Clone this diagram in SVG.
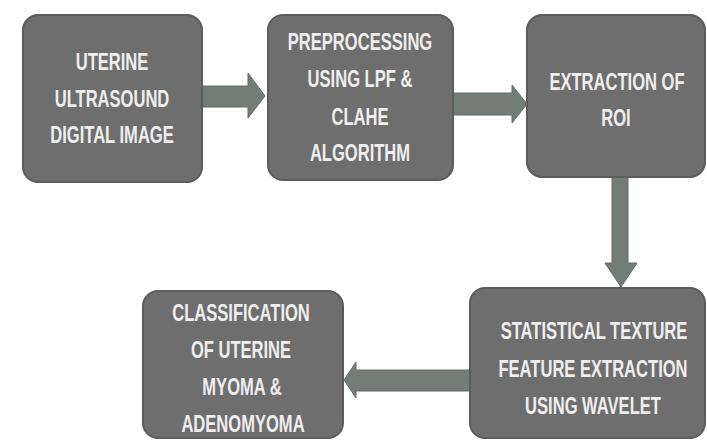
<svg xmlns="http://www.w3.org/2000/svg" width="707" height="441" viewBox="0 0 707 441">
<style>
.box{fill:#6e6e6e;stroke:#5c5c5c;stroke-width:2}
.t{font-family:"Liberation Sans",Arial,sans-serif;font-size:23px;font-weight:bold;fill:#eeeeee;text-anchor:middle}
.arr{fill:#737d78;stroke:#626b67;stroke-width:1}
</style>
<rect width="707" height="441" fill="#ffffff"/>
<g id="connectors">
<polygon class="arr" points="202,86 248,86 248,73 265,96 248,118 248,107 202,107"/>
<polygon class="arr" points="452,93 512,93 512,85 527,104 512,123 512,115 452,115"/>
<polygon class="arr" points="612,177 628,177 628,263 637,263 621,287 605,263 612,263"/>
<polygon class="arr" points="470,370 356,370 356,362 344,380 356,398 356,391 470,391"/>
</g>
<g id="node1">
<rect class="box" x="23" y="15" width="179" height="167" rx="15"/>
<text class="t" transform="translate(112,70) scale(0.72,1)">UTERINE</text>
<text class="t" transform="translate(112,107) scale(0.72,1)">ULTRASOUND</text>
<text class="t" transform="translate(112,143) scale(0.72,1)">DIGITAL IMAGE</text>
</g>
<g id="node2">
<rect class="box" x="268" y="15" width="185" height="165" rx="15"/>
<text class="t" transform="translate(360,50) scale(0.72,1)">PREPROCESSING</text>
<text class="t" transform="translate(360,87) scale(0.72,1)">USING LPF &amp;</text>
<text class="t" transform="translate(360,125) scale(0.72,1)">CLAHE</text>
<text class="t" transform="translate(360,161) scale(0.72,1)">ALGORITHM</text>
</g>
<g id="node3">
<rect class="box" x="527" y="15" width="178" height="162" rx="15"/>
<text class="t" transform="translate(617,90) scale(0.72,1)">EXTRACTION OF</text>
<text class="t" transform="translate(616,126) scale(0.72,1)">ROI</text>
</g>
<g id="node4">
<rect class="box" x="470" y="288" width="235" height="150" rx="15"/>
<text class="t" transform="translate(594,339) scale(0.72,1)">STATISTICAL TEXTURE</text>
<text class="t" transform="translate(593,377) scale(0.72,1)">FEATURE EXTRACTION</text>
<text class="t" transform="translate(593,414) scale(0.72,1)">USING WAVELET</text>
</g>
<g id="node5">
<rect class="box" x="143" y="291" width="200" height="147" rx="15"/>
<text class="t" transform="translate(241,321) scale(0.72,1)">CLASSIFICATION</text>
<text class="t" transform="translate(241,358) scale(0.72,1)">OF UTERINE</text>
<text class="t" transform="translate(242,395) scale(0.72,1)">MYOMA &amp;</text>
<text class="t" transform="translate(243,432) scale(0.72,1)">ADENOMYOMA</text>
</g>
</svg>
